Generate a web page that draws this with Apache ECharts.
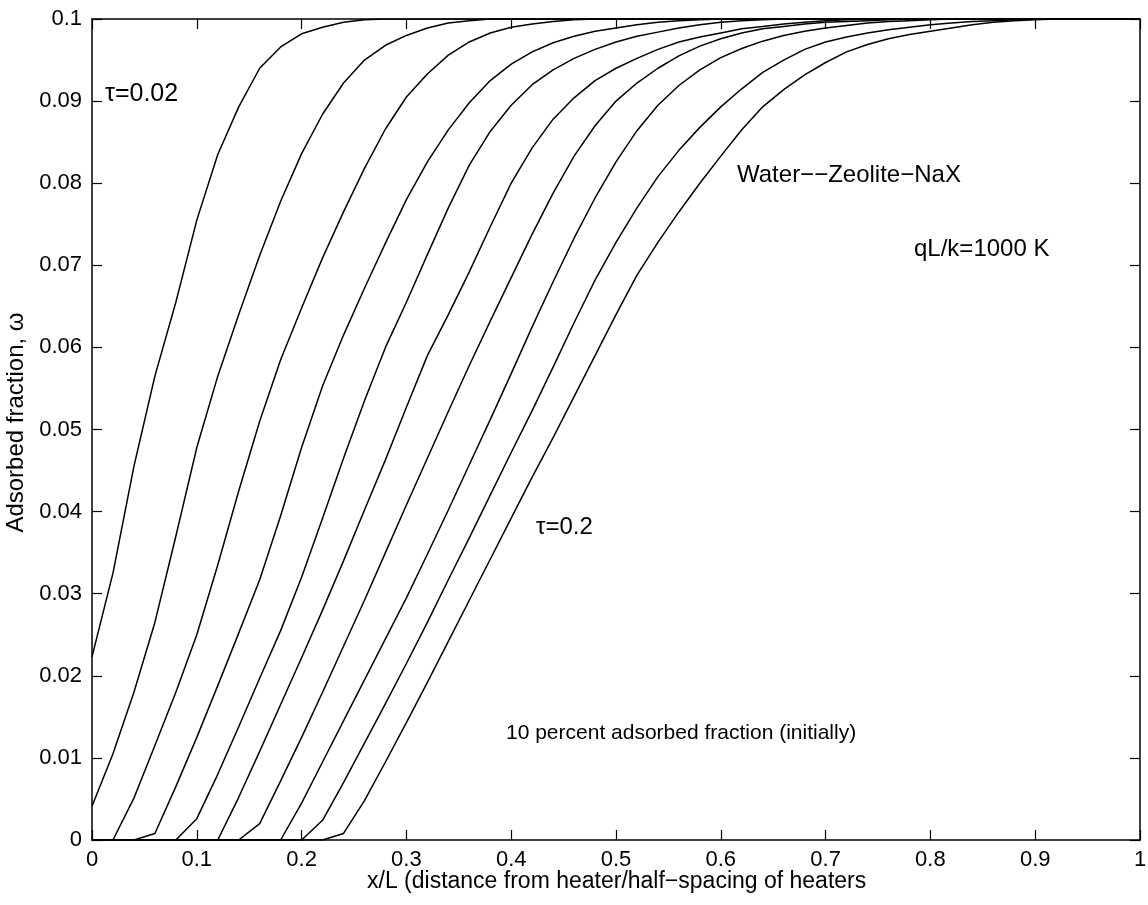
<!DOCTYPE html>
<html>
<head>
<meta charset="utf-8">
<title>Adsorbed fraction</title>
<script src="https://cdn.jsdelivr.net/npm/echarts@6/dist/echarts.min.js"></script>
<style>
  html, body { margin: 0; padding: 0; background: #fff; }
  #chart { width: 1148px; height: 905px; }
</style>
</head>
<body>
<div id="chart"></div>
<script>
// sampling points along x/L (step of the original calculation)
var xs = [0, 0.02, 0.04, 0.06, 0.08, 0.10, 0.12, 0.14, 0.16, 0.18,
          0.20, 0.22, 0.24, 0.26, 0.28, 0.30, 0.32, 0.34, 0.36, 0.38,
          0.40, 0.42, 0.44, 0.46, 0.48, 0.50, 0.52, 0.54, 0.56, 0.58,
          0.60, 0.62, 0.64, 0.66, 0.68, 0.70, 0.72, 0.74, 0.76, 0.78,
          0.80, 0.82, 0.84, 0.86, 0.88, 0.90, 0.92, 0.94, 0.96, 0.98, 1.0];

var xMax = 1;
var omegaMax = 0.1;

// adsorbed fraction for each dimensionless time (starts at x=0)
var tau002 = [0.0223, 0.0325, 0.0455, 0.0565, 0.0655, 0.0755, 0.0835, 0.0893, 0.0940, 0.0966,
              0.0982, 0.0990, 0.0996, 0.0999, 0.1];
var tau004 = [0.0041, 0.0105, 0.0180, 0.0265, 0.0370, 0.0478, 0.0565, 0.0640, 0.0712, 0.0778,
              0.0836, 0.0884, 0.0922, 0.0950, 0.0968, 0.0980, 0.0989, 0.0995, 0.0998, 0.1];
var tau006 = [0, 0, 0.0051, 0.0115, 0.0180, 0.0250, 0.0335, 0.0425, 0.0510, 0.0585,
              0.0648, 0.0709, 0.0765, 0.0818, 0.0866, 0.0905, 0.0933, 0.0956, 0.0972, 0.0983,
              0.0990, 0.0994, 0.0997, 0.0999, 0.1];
var tau008 = [0, 0, 0, 0.0008, 0.0065, 0.0125, 0.0188, 0.0252, 0.0317, 0.0395,
              0.0478, 0.0553, 0.0615, 0.0672, 0.0727, 0.0780, 0.0826, 0.0865, 0.0898, 0.0925,
              0.0945, 0.0960, 0.0971, 0.0979, 0.0985, 0.0989, 0.0993, 0.0996, 0.0998, 0.0999,
              0.1];
var tau010 = [0, 0, 0, 0, 0, 0.0026, 0.0080, 0.0138, 0.0197, 0.0255,
              0.0320, 0.0392, 0.0465, 0.0535, 0.0600, 0.0655, 0.0713, 0.0770, 0.0822, 0.0863,
              0.0895, 0.0920, 0.0938, 0.0952, 0.0963, 0.0972, 0.0979, 0.0984, 0.0989, 0.0993,
              0.0996, 0.0998, 0.0999, 0.1];
var tau012 = [0, 0, 0, 0, 0, 0, 0, 0.0052, 0.0108, 0.0165,
              0.0222, 0.0280, 0.0340, 0.0402, 0.0463, 0.0527, 0.0590, 0.0640, 0.0692, 0.0747,
              0.0800, 0.0843, 0.0878, 0.0904, 0.0925, 0.0940, 0.0952, 0.0963, 0.0972, 0.0978,
              0.0983, 0.0988, 0.0991, 0.0994, 0.0996, 0.0998, 0.0999, 0.1];
var tau014 = [0, 0, 0, 0, 0, 0, 0, 0, 0.0020, 0.0072,
              0.0125, 0.0180, 0.0236, 0.0292, 0.0350, 0.0408, 0.0465, 0.0522, 0.0578, 0.0632,
              0.0685, 0.0738, 0.0788, 0.0833, 0.0870, 0.0900, 0.0922, 0.0940, 0.0955, 0.0967,
              0.0976, 0.0983, 0.0988, 0.0991, 0.0994, 0.0996, 0.0997, 0.0998, 0.0999, 0.1];
var tau016 = [0, 0, 0, 0, 0, 0, 0, 0, 0, 0,
              0.0045, 0.0095, 0.0145, 0.0195, 0.0245, 0.0295, 0.0348, 0.0402, 0.0457, 0.0512,
              0.0568, 0.0625, 0.0680, 0.0733, 0.0782, 0.0826, 0.0864, 0.0895, 0.0919, 0.0938,
              0.0953, 0.0964, 0.0973, 0.0980, 0.0985, 0.0989, 0.0992, 0.0995, 0.0997, 0.0998,
              0.0999, 0.1];
var tau018 = [0, 0, 0, 0, 0, 0, 0, 0, 0, 0,
              0, 0.0024, 0.0070, 0.0118, 0.0166, 0.0215, 0.0265, 0.0317, 0.0368, 0.0420,
              0.0472, 0.0523, 0.0576, 0.0630, 0.0682, 0.0728, 0.0770, 0.0808, 0.0840, 0.0868,
              0.0893, 0.0915, 0.0935, 0.0950, 0.0963, 0.0972, 0.0978, 0.0983, 0.0987, 0.0990,
              0.0993, 0.0995, 0.0997, 0.0998, 0.0999, 0.1];
var tau020 = [0, 0, 0, 0, 0, 0, 0, 0, 0, 0,
              0, 0, 0.0008, 0.0048, 0.0095, 0.0143, 0.0192, 0.0242, 0.0292, 0.0342,
              0.0392, 0.0442, 0.0490, 0.0540, 0.0590, 0.0640, 0.0688, 0.0728, 0.0765, 0.0800,
              0.0833, 0.0865, 0.0893, 0.0914, 0.0932, 0.0947, 0.0960, 0.0969, 0.0976, 0.0981,
              0.0985, 0.0989, 0.0993, 0.0996, 0.0998, 0.0999, 0.1];

var curves = [tau002, tau004, tau006, tau008, tau010, tau012, tau014, tau016, tau018, tau020];

var fontFam = 'Liberation Sans, Arial, Helvetica, sans-serif';

var chart = echarts.init(document.getElementById('chart'));

function trim(v) {
    return String(parseFloat(v.toFixed(3)));
}

var series = [];
curves.forEach(function (c, k) {
    var pts = [];
    for (var i = 0; i < c.length; i++) {
        pts.push([xs[i], c[i]]);
    }
    pts.push([xMax, omegaMax]);
    series.push({
        name: 'c' + k,
        type: 'line',
        data: pts,
        showSymbol: false,
        smooth: false,
        lineStyle: { color: '#000', width: 1.5 },
        silent: true
    });
});

var axisLineStyle = { color: '#000', width: 1.5 };
var tickStyle = { inside: true, length: 10, lineStyle: { color: '#000', width: 1.2 } };

// free text placed on the chart
function note(txt, left, top, size) {
    return { type: 'text', left: left, top: top, silent: true,
             style: { text: txt, font: size + 'px ' + fontFam, fill: '#000' } };
}

var option = {
    animation: false,
    backgroundColor: '#fff',
    grid: { left: 92, right: 8, top: 19, bottom: 65, containLabel: false, outerBoundsMode: 'none' },
    xAxis: [{
        type: 'value',
        min: 0, max: 1, interval: 0.1,
        position: 'bottom',
        axisLine: { onZero: false, lineStyle: axisLineStyle },
        axisTick: tickStyle,
        axisLabel: { color: '#000', fontSize: 22, fontFamily: fontFam, margin: 9, formatter: trim },
        splitLine: { show: false }
    }, {
        type: 'value',
        min: 0, max: 1, interval: 0.1,
        position: 'top',
        axisLine: { onZero: false, lineStyle: axisLineStyle },
        axisTick: tickStyle,
        axisLabel: { show: false },
        splitLine: { show: false }
    }],
    yAxis: [{
        type: 'value',
        min: 0, max: 0.1, interval: 0.01,
        position: 'left',
        axisLine: { onZero: false, lineStyle: axisLineStyle },
        axisTick: tickStyle,
        axisLabel: { color: '#000', fontSize: 22, fontFamily: fontFam, margin: 10, formatter: trim },
        splitLine: { show: false },
        name: 'Adsorbed fraction, \u03c9',
        nameLocation: 'middle',
        nameGap: 54,
        nameTextStyle: { color: '#000', fontSize: 24, fontFamily: fontFam, padding: [0, 0, 0, 14] }
    }, {
        type: 'value',
        min: 0, max: 0.1, interval: 0.01,
        position: 'right',
        axisLine: { onZero: false, lineStyle: axisLineStyle },
        axisTick: tickStyle,
        axisLabel: { show: false },
        splitLine: { show: false }
    }],
    graphic: [
        note('\u03c4=0.02', 105, 82, 25),
        note('Water\u2212\u2212Zeolite\u2212NaX', 737, 163, 24),
        note('qL/k=1000 K', 914, 237, 24),
        note('\u03c4=0.2', 536, 515, 24),
        note('10 percent adsorbed fraction (initially)', 506, 723, 21),
        note('x/L (distance from heater/half\u2212spacing of heaters', 367, 870, 23)
    ],
    series: series
};

chart.setOption(option);
</script>
</body>
</html>
